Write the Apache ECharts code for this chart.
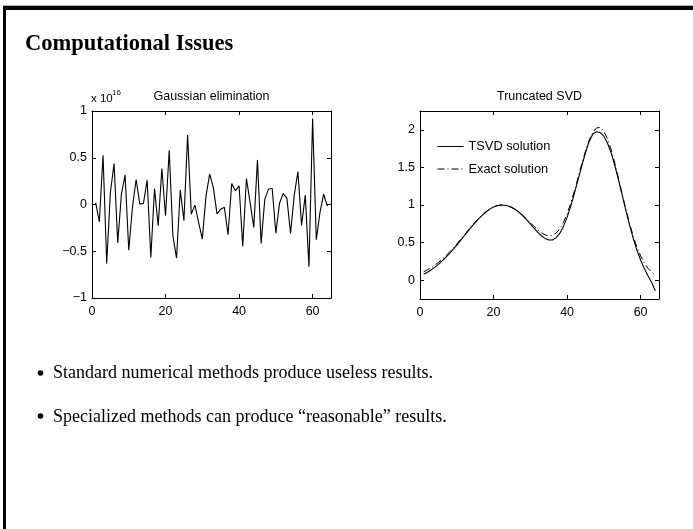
<!DOCTYPE html>
<html>
<head>
<meta charset="utf-8">
<script src="https://cdn.jsdelivr.net/npm/echarts@6/dist/echarts.min.js"></script>
<style>
html,body{margin:0;padding:0;background:#fff;}
#c{width:693px;height:529px;}
</style>
</head>
<body>
<div id="c"></div>
<script>
// ---- data ----
const sampleIndex = [1,2,3,4,5,6,7,8,9,10,11,12,13,14,15,16,17,18,19,20,21,22,23,24,25,26,27,28,29,30,31,32,33,34,35,36,37,38,39,40,41,42,43,44,45,46,47,48,49,50,51,52,53,54,55,56,57,58,59,60,61,62,63,64];
// Gaussian elimination solution, in units of 10^16
const gaussValues = [0.02,-0.185,0.527,-0.63,0.128,0.438,-0.41,0.11,0.317,-0.49,
  -0.03,0.267,0.004,0.014,0.26,-0.566,0.17,-0.228,0.384,-0.12,
  0.58,-0.335,-0.573,0.157,-0.174,0.744,-0.103,-0.007,-0.19,-0.37,
  0.09,0.324,0.18,-0.10,-0.05,-0.03,-0.324,0.224,0.146,0.20,
  -0.45,0.278,0.02,-0.246,0.477,-0.416,0.057,0.164,0.174,-0.306,
  0.014,0.117,0.068,-0.31,0.10,0.352,-0.224,0.10,-0.665,0.92,
  -0.377,-0.085,0.11,-0.018];
const tsvdValues = [0.080,0.105,0.135,0.170,0.210,0.255,0.303,0.355,0.410,0.467,
  0.527,0.588,0.648,0.708,0.765,0.818,0.866,0.909,0.945,0.972,
  0.990,0.998,0.997,0.987,0.967,0.938,0.900,0.855,0.803,0.748,
  0.692,0.638,0.591,0.556,0.535,0.535,0.563,0.622,0.712,0.835,
  0.985,1.155,1.338,1.522,1.695,1.843,1.945,1.975,1.965,1.915,
  1.822,1.690,1.522,1.330,1.128,0.925,0.732,0.555,0.400,0.268,
  0.155,0.060,-0.030,-0.140];
const exactValues = [0.112,0.137,0.166,0.199,0.236,0.277,0.323,0.373,0.426,0.482,
  0.540,0.599,0.658,0.717,0.773,0.825,0.873,0.914,0.948,0.975,
  0.992,1.000,0.998,0.987,0.966,0.938,0.902,0.860,0.813,0.765,
  0.716,0.671,0.632,0.604,0.590,0.596,0.625,0.681,0.766,0.881,
  1.024,1.188,1.365,1.545,1.714,1.859,1.966,2.025,2.031,1.981,
  1.879,1.733,1.553,1.352,1.145,0.941,0.752,0.584,0.441,0.323,
  0.230,0.159,0.107,0.070];
const xTicks = [0,20,40,60];
const leftYTicks = [-1,-0.5,0,0.5,1];
const rightYTicks = [0,0.5,1,1.5,2];
const seriesNames = ['TSVD solution','Exact solution'];
const plotTitles = ['Gaussian elimination','Truncated SVD'];
const slideTitle = 'Computational Issues';
const bullets = ['Standard numerical methods produce useless results.',
                 'Specialized methods can produce \u201creasonable\u201d results.'];

// ---- chart ----
const SANS = '"Liberation Sans", Arial, Helvetica, sans-serif';
const SERIF = '"Liberation Serif", "Times New Roman", serif';
const FS = 12.5;
const pair = (xs, ys) => xs.map((x, i) => [x, ys[i]]);
const fmt = v => String(v).replace('-', '\u2212');

function xAxes(gi) {
  return [
    { gridIndex: gi, type: 'value', position: 'bottom', min: 0, max: 65,
      axisLine: { show: true, onZero: false, lineStyle: { color: '#000', width: 1 } },
      axisTick: { show: true, inside: true, length: 4, customValues: xTicks, lineStyle: { color: '#000' } },
      axisLabel: { show: true, customValues: xTicks, margin: 7, color: '#000', fontSize: FS, fontFamily: SANS },
      splitLine: { show: false } },
    { gridIndex: gi, type: 'value', position: 'top', min: 0, max: 65,
      axisLine: { show: true, onZero: false, lineStyle: { color: '#000', width: 1 } },
      axisTick: { show: true, inside: true, length: 4, customValues: xTicks, lineStyle: { color: '#000' } },
      axisLabel: { show: false },
      splitLine: { show: false } }
  ];
}
function yAxes(gi, min, max, ticks) {
  return [
    { gridIndex: gi, type: 'value', position: 'left', min: min, max: max,
      axisLine: { show: true, onZero: false, lineStyle: { color: '#000', width: 1 } },
      axisTick: { show: true, inside: true, length: 4, customValues: ticks, lineStyle: { color: '#000' } },
      axisLabel: { show: true, customValues: ticks, margin: 5, color: '#000', fontSize: FS, fontFamily: SANS,
                   formatter: fmt },
      splitLine: { show: false } },
    { gridIndex: gi, type: 'value', position: 'right', min: min, max: max,
      axisLine: { show: true, onZero: false, lineStyle: { color: '#000', width: 1 } },
      axisTick: { show: true, inside: true, length: 4, customValues: ticks, lineStyle: { color: '#000' } },
      axisLabel: { show: false },
      splitLine: { show: false } }
  ];
}

const chart = echarts.init(document.getElementById('c'), null, { renderer: 'canvas' });
chart.setOption({
  animation: false,
  backgroundColor: '#fff',
  grid: [
    { left: 92, top: 111, width: 239, height: 187 },
    { left: 420, top: 111, width: 239, height: 188 }
  ],
  xAxis: [...xAxes(0), ...xAxes(1)],
  yAxis: [...yAxes(0, -1, 1, leftYTicks), ...yAxes(1, -0.25, 2.25, rightYTicks)],
  legend: {
    data: seriesNames, orient: 'vertical', left: 437, top: 140, padding: 0,
    itemWidth: 26, itemHeight: 14, itemGap: 9.5,
    itemStyle: { opacity: 0 },
    lineStyle: { width: 1 },
    textStyle: { color: '#000', fontSize: 12.8, fontFamily: SANS },
    selectedMode: false
  },
  series: [
    { type: 'line', name: 'gauss', xAxisIndex: 0, yAxisIndex: 0, data: pair(sampleIndex, gaussValues),
      symbol: 'none', lineStyle: { color: '#000', width: 1.1 } },
    { type: 'line', name: seriesNames[0], xAxisIndex: 2, yAxisIndex: 2, data: pair(sampleIndex, tsvdValues),
      symbol: 'none', itemStyle: { color: '#000' }, lineStyle: { color: '#000', width: 1.1 } },
    { type: 'line', name: seriesNames[1], xAxisIndex: 2, yAxisIndex: 2, data: pair(sampleIndex, exactValues),
      symbol: 'none', itemStyle: { color: '#000' }, lineStyle: { color: '#000', width: 1, type: [7, 3, 1, 3] } }
  ],
  graphic: [
    // slide frame
    { type: 'rect', shape: { x: 3, y: 5, width: 690, height: 1 }, style: { fill: '#b0b0b0' }, silent: true },
    { type: 'rect', shape: { x: 3, y: 6, width: 690, height: 4 }, style: { fill: '#000' }, silent: true },
    { type: 'rect', shape: { x: 3, y: 6, width: 3, height: 523 }, style: { fill: '#000' }, silent: true },
    // slide title
    { type: 'text', x: 25, y: 44.5, style: { text: slideTitle, font: 'bold 22.5px ' + SERIF, fill: '#000',
      textAlign: 'left', textVerticalAlign: 'middle' } },
    // plot titles
    { type: 'text', x: 211.5, y: 97, style: { text: plotTitles[0], font: FS + 'px ' + SANS, fill: '#000',
      textAlign: 'center', textVerticalAlign: 'middle' } },
    { type: 'text', x: 539.5, y: 97, style: { text: plotTitles[1], font: FS + 'px ' + SANS, fill: '#000',
      textAlign: 'center', textVerticalAlign: 'middle' } },
    // exponent label
    { type: 'text', x: 91, y: 99, style: { text: 'x 10', font: '11.5px ' + SANS, fill: '#000',
      textAlign: 'left', textVerticalAlign: 'middle' } },
    { type: 'text', x: 112, y: 93, style: { text: '16', font: '8px ' + SANS, fill: '#000',
      textAlign: 'left', textVerticalAlign: 'middle' } },
    // bullets
    { type: 'circle', shape: { cx: 40.5, cy: 373, r: 2.8 }, style: { fill: '#000' } },
    { type: 'circle', shape: { cx: 40.5, cy: 416, r: 2.8 }, style: { fill: '#000' } },
    { type: 'text', x: 53, y: 373.5, style: { text: bullets[0], font: '18px ' + SERIF, fill: '#000',
      textAlign: 'left', textVerticalAlign: 'middle' } },
    { type: 'text', x: 53, y: 417.5, style: { text: bullets[1], font: '18px ' + SERIF, fill: '#000',
      textAlign: 'left', textVerticalAlign: 'middle' } }
  ]
});
</script>
</body>
</html>
